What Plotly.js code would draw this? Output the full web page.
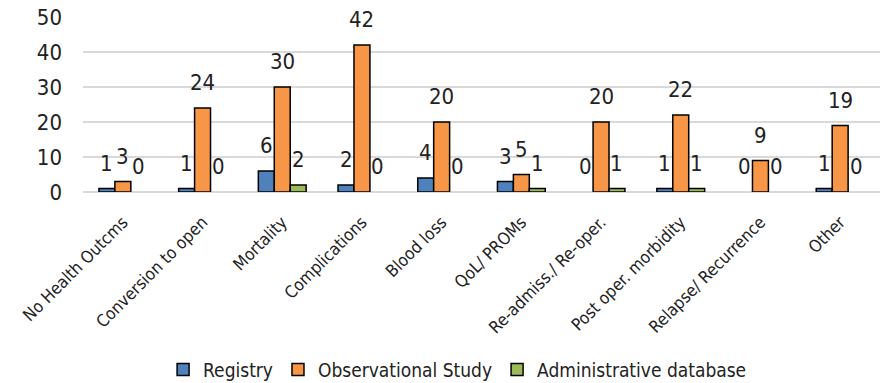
<!DOCTYPE html>
<html><head><meta charset="utf-8">
<script src="https://cdn.plot.ly/plotly-3.0.1.min.js"></script>
<style>html,body{margin:0;padding:0;background:#fff}#c{width:895px;height:383px}</style>
</head><body><div id="c"></div>
<script>
const categories = ["No Health Outcms","Conversion to open","Mortality","Complications","Blood loss","QoL/ PROMs","Re-admiss./ Re-oper.","Post oper. morbidity","Relapse/ Recurrence","Other"];
const registry = [1,1,6,2,4,3,0,1,0,1];
const observational = [3,24,30,42,20,5,20,22,9,19];
const administrative = [0,0,2,0,0,1,1,1,0,0];
const seriesNames = ["Registry","Observational Study","Administrative database"];
const colors = ["#4F81BD","#F79646","#9BBB59"];
const FONT = "'DejaVu Sans Condensed', 'Liberation Sans Narrow', 'Arial Narrow', sans-serif";
const W = 895, H = 383, M = {l:83, r:15, t:17, b:191};
const BARGAP = 0.4;
const vals = [registry, observational, administrative];
// zero-height bars are not outlined (as in the source), so they are left undrawn
const traces = vals.map((v,i)=>({
  type:'bar', x:categories, y:v.map(d => d === 0 ? null : d), name:seriesNames[i],
  marker:{color:colors[i], line:{color:'#000', width:1.5}},
  hoverinfo:'skip'
}));
// data labels: placed above each bar via the axis scale, shifted to its slot in the group
const catPx = (W - M.l - M.r) / categories.length;
const barPx = catPx * (1 - BARGAP) / vals.length;
const annotations = [];
vals.forEach((v,i)=>{
  v.forEach((val,j)=>{
    annotations.push({
      xref:'x', yref:'y', x:categories[j], y:val, text:String(val),
      showarrow:false, xanchor:'center', yanchor:'bottom',
      xshift:(i - (vals.length-1)/2) * barPx, yshift:11,
      font:{family:FONT, size:22, color:'#222'}
    });
  });
});
const layout = {
  width:W, height:H,
  margin:Object.assign({autoexpand:false}, M),
  paper_bgcolor:'#fff', plot_bgcolor:'#fff',
  barmode:'group', bargap:BARGAP, bargroupgap:0,
  font:{family:FONT, color:'#222'},
  xaxis:{type:'category', categoryorder:'array', categoryarray:categories, tickangle:-45, tickfont:{family:FONT, size:17, color:'#222'}, ticklabelstandoff:16, showgrid:false, showline:false, ticks:'', automargin:false},
  yaxis:{range:[0,50], dtick:10, tickfont:{family:FONT, size:22, color:'#222'}, ticklabelstandoff:20, gridcolor:'#d9d9d9', gridwidth:1.5, zeroline:true, zerolinecolor:'#d9d9d9', zerolinewidth:1.5, ticks:'', ticklen:0, automargin:false},
  showlegend:true,
  legend:{orientation:'h', x:0.47, xanchor:'center', y:-1.015, yanchor:'middle', font:{family:FONT, size:19, color:'#222'}, itemwidth:30, traceorder:'normal'},
  annotations:annotations
};
Plotly.newPlot('c', traces, layout, {displayModeBar:false, staticPlot:true});
</script></body></html>
